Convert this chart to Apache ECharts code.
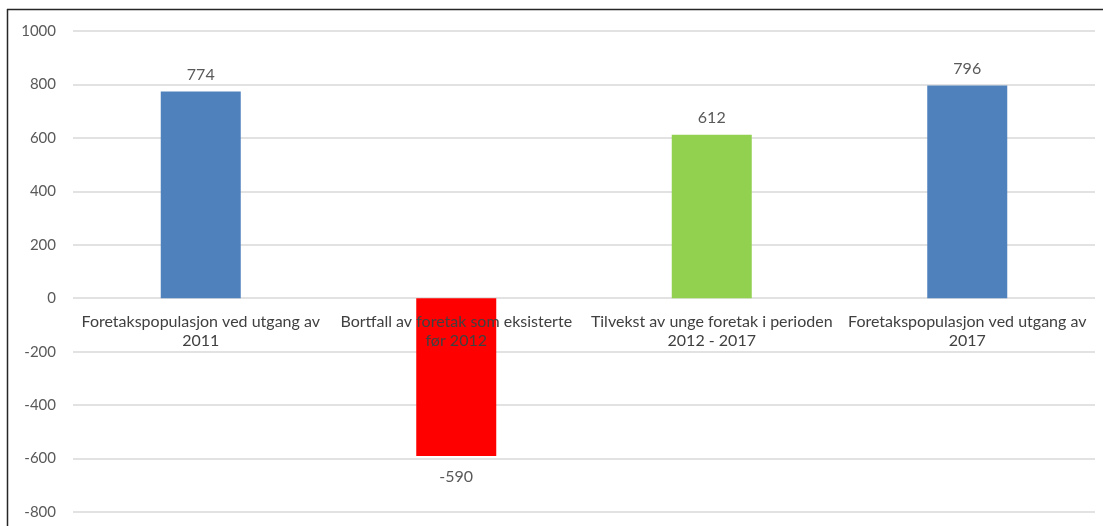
<!DOCTYPE html>
<html>
<head>
<meta charset="utf-8">
<style>
  html, body { margin: 0; padding: 0; background: #fff; }
  #chart { width: 1103px; height: 526px; }
</style>
<script src="https://cdn.jsdelivr.net/npm/echarts@6/dist/echarts.min.js"></script>
</head>
<body>
<div id="chart"></div>
<script>
// Categories (line breaks where the labels wrap)
const categories = [
  'Foretakspopulasjon ved utgang av\n2011',
  'Bortfall av foretak som eksisterte\nfør 2012',
  'Tilvekst av unge foretak i perioden\n2012 - 2017',
  'Foretakspopulasjon ved utgang av\n2017'
];
const values = [774, -590, 612, 796];
const barColors = ['#4F81BD', '#FF0000', '#92D050', '#4F81BD'];
const yTicks = { min: -800, max: 1000, interval: 200 };

const chart = echarts.init(document.getElementById('chart'));
const font = 'Lato, "Open Sans", sans-serif';

chart.setOption({
  animation: false,
  grid: { left: 73, right: 8, top: 31, bottom: 14, containLabel: false, outerBoundsMode: 'none' },
  xAxis: {
    type: 'category',
    data: categories,
    axisLine: { show: false },
    axisTick: { show: false },
    axisLabel: { show: false }
  },
  yAxis: {
    type: 'value',
    min: yTicks.min,
    max: yTicks.max,
    interval: yTicks.interval,
    axisLine: { show: false },
    axisTick: { show: false },
    axisLabel: { color: '#595959', fontFamily: font, fontSize: 15, margin: 17, formatter: v => String(v) },
    splitLine: { lineStyle: { color: '#D9D9D9', width: 1.5 } }
  },
  series: [
    {
      type: 'bar',
      barWidth: 80,
      z: 3,
      data: values.map((v, i) => ({
        value: v,
        itemStyle: { color: barColors[i] },
        label: { distance: v < 0 ? 13 : 9 }
      })),
      label: {
        show: true,
        position: 'outside',
        color: '#595959',
        fontFamily: font,
        fontSize: 16
      }
    },
    {
      // category names hang just below the zero line, drawn over the bars
      type: 'bar',
      barWidth: 80,
      barGap: '-100%',
      z: 5,
      silent: true,
      itemStyle: { color: 'transparent' },
      data: categories.map(() => 0),
      label: {
        show: true,
        position: 'bottom',
        distance: 14,
        formatter: p => categories[p.dataIndex],
        color: '#404040',
        fontFamily: font,
        fontSize: 16,
        lineHeight: 19,
        align: 'center'
      }
    }
  ],
  graphic: [
    { type: 'line', shape: { x1: 7, y1: 9.5, x2: 1103, y2: 9.5 }, style: { stroke: '#262626', lineWidth: 1.5 } },
    { type: 'line', shape: { x1: 7.5, y1: 9, x2: 7.5, y2: 526 }, style: { stroke: '#262626', lineWidth: 1.5 } }
  ]
});
</script>
</body>
</html>
